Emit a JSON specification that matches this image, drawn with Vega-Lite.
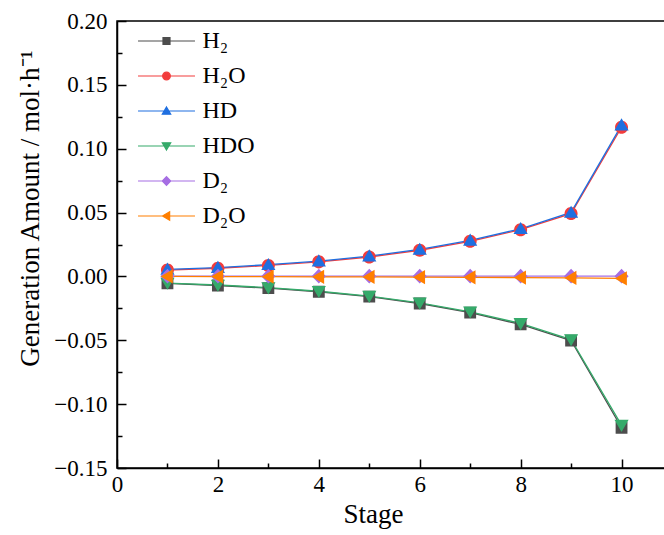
{
  "$schema": "https://vega.github.io/schema/vega-lite/v6.json",
  "width": 555,
  "height": 447,
  "autosize": {"type": "none"},
  "padding": {"left": 117, "top": 21, "right": 0, "bottom": 67},
  "background": "white",
  "config": {
    "view": {"stroke": "black", "strokeWidth": 1.5},
    "font": "Liberation Serif, Times New Roman, serif",
    "axis": {
      "grid": false,
      "domainColor": "black",
      "domainWidth": 1.5,
      "tickColor": "black",
      "tickWidth": 1.5,
      "labelColor": "black",
      "labelFontSize": 23,
      "labelFont": "Liberation Serif, Times New Roman, serif",
      "titleFont": "Liberation Serif, Times New Roman, serif",
      "titleFontSize": 27,
      "titleFontWeight": "normal",
      "titleColor": "black"
    }
  },
  "data": {
    "values": [
      {"species": "H₂", "stage": 1, "amount": -0.0055},
      {"species": "H₂", "stage": 2, "amount": -0.0071},
      {"species": "H₂", "stage": 3, "amount": -0.0092},
      {"species": "H₂", "stage": 4, "amount": -0.0120},
      {"species": "H₂", "stage": 5, "amount": -0.0158},
      {"species": "H₂", "stage": 6, "amount": -0.0212},
      {"species": "H₂", "stage": 7, "amount": -0.0284},
      {"species": "H₂", "stage": 8, "amount": -0.0376},
      {"species": "H₂", "stage": 9, "amount": -0.0502},
      {"species": "H₂", "stage": 10, "amount": -0.1185},
      {"species": "H₂O", "stage": 1, "amount": 0.0050},
      {"species": "H₂O", "stage": 2, "amount": 0.0064},
      {"species": "H₂O", "stage": 3, "amount": 0.0086},
      {"species": "H₂O", "stage": 4, "amount": 0.0114},
      {"species": "H₂O", "stage": 5, "amount": 0.0152},
      {"species": "H₂O", "stage": 6, "amount": 0.0205},
      {"species": "H₂O", "stage": 7, "amount": 0.0275},
      {"species": "H₂O", "stage": 8, "amount": 0.0366},
      {"species": "H₂O", "stage": 9, "amount": 0.0492},
      {"species": "H₂O", "stage": 10, "amount": 0.1168},
      {"species": "HD", "stage": 1, "amount": 0.0055},
      {"species": "HD", "stage": 2, "amount": 0.0069},
      {"species": "HD", "stage": 3, "amount": 0.0092},
      {"species": "HD", "stage": 4, "amount": 0.0120},
      {"species": "HD", "stage": 5, "amount": 0.0159},
      {"species": "HD", "stage": 6, "amount": 0.0211},
      {"species": "HD", "stage": 7, "amount": 0.0282},
      {"species": "HD", "stage": 8, "amount": 0.0373},
      {"species": "HD", "stage": 9, "amount": 0.0501},
      {"species": "HD", "stage": 10, "amount": 0.1185},
      {"species": "HDO", "stage": 1, "amount": -0.0052},
      {"species": "HDO", "stage": 2, "amount": -0.0067},
      {"species": "HDO", "stage": 3, "amount": -0.0088},
      {"species": "HDO", "stage": 4, "amount": -0.0116},
      {"species": "HDO", "stage": 5, "amount": -0.0154},
      {"species": "HDO", "stage": 6, "amount": -0.0207},
      {"species": "HDO", "stage": 7, "amount": -0.0277},
      {"species": "HDO", "stage": 8, "amount": -0.0368},
      {"species": "HDO", "stage": 9, "amount": -0.0494},
      {"species": "HDO", "stage": 10, "amount": -0.1164},
      {"species": "D₂", "stage": 1, "amount": 0.0002},
      {"species": "D₂", "stage": 2, "amount": 0.0002},
      {"species": "D₂", "stage": 3, "amount": 0.0002},
      {"species": "D₂", "stage": 4, "amount": 0.0002},
      {"species": "D₂", "stage": 5, "amount": 0.0002},
      {"species": "D₂", "stage": 6, "amount": 0.0002},
      {"species": "D₂", "stage": 7, "amount": 0.0002},
      {"species": "D₂", "stage": 8, "amount": 0.0002},
      {"species": "D₂", "stage": 9, "amount": 0.0002},
      {"species": "D₂", "stage": 10, "amount": 0.0002},
      {"species": "D₂O", "stage": 1, "amount": 0.0000},
      {"species": "D₂O", "stage": 2, "amount": -0.0001},
      {"species": "D₂O", "stage": 3, "amount": -0.0002},
      {"species": "D₂O", "stage": 4, "amount": -0.0003},
      {"species": "D₂O", "stage": 5, "amount": -0.0004},
      {"species": "D₂O", "stage": 6, "amount": -0.0006},
      {"species": "D₂O", "stage": 7, "amount": -0.0007},
      {"species": "D₂O", "stage": 8, "amount": -0.0009},
      {"species": "D₂O", "stage": 9, "amount": -0.0012},
      {"species": "D₂O", "stage": 10, "amount": -0.0016}
    ]
  },
  "encoding": {
    "x": {
      "field": "stage",
      "type": "quantitative",
      "scale": {"domain": [0, 11], "nice": false, "zero": false},
      "axis": {
        "values": [0, 1, 2, 3, 4, 5, 6, 7, 8, 9, 10],
        "labelExpr": "datum.value % 2 === 0 ? format(datum.value, 'd') : ''",
        "tickSize": {"condition": {"test": "datum.value % 2 === 0", "value": -9}, "value": -5},
        "labelPadding": 14,
        "labelFlush": false,
        "title": "Stage",
        "titleX": 256,
        "titleY": 54,
        "titleBaseline": "alphabetic",
        "titleAnchor": null,
        "titleAlign": "center"
      }
    },
    "y": {
      "field": "amount",
      "type": "quantitative",
      "scale": {"domain": [-0.15, 0.2], "nice": false, "zero": false},
      "axis": {
        "values": [-0.15, -0.125, -0.1, -0.075, -0.05, -0.025, 0, 0.025, 0.05, 0.075, 0.1, 0.125, 0.15, 0.175, 0.2],
        "labelExpr": "abs(datum.value * 20 - round(datum.value * 20)) < 0.001 ? format(datum.value, '.2f') : ''",
        "tickSize": {"condition": {"test": "abs(datum.value * 20 - round(datum.value * 20)) < 0.001", "value": -9}, "value": -5},
        "labelPadding": 19,
        "labelFlush": false,
        "title": "Generation Amount / mol·h⁻¹",
        "titleX": -79,
        "titleY": 187,
        "titleBaseline": "alphabetic",
        "titleAlign": "center",
        "titleAnchor": null
      }
    },
    "color": {
      "field": "species",
      "type": "nominal",
      "scale": {
        "domain": ["H₂", "H₂O", "HD", "HDO", "D₂", "D₂O"],
        "range": ["#4d4d4d", "#f23c3c", "#1f6fe0", "#35aa6a", "#a66ee3", "#ff7f00"]
      },
      "legend": {
        "orient": "none",
        "legendX": 21,
        "legendY": 8,
        "title": null,
        "padding": 0,
        "symbolSize": 49,
        "symbolStrokeWidth": 1.2,
        "symbolOffset": 16.5,
        "rowPadding": 11,
        "labelOffset": 24,
        "labelFontSize": 24,
        "labelFont": "Liberation Serif, Times New Roman, serif",
        "labelColor": "black",
        "labelLimit": 200,
        "encode": {
          "symbols": {
            "update": {
              "fill": {"scale": "color", "field": "value"},
              "stroke": {"scale": "color", "field": "value"},
              "strokeWidth": {"value": 1.2},
              "size": {"value": 49},
              "opacity": {"value": 1}
            }
          }
        }
      }
    }
  },
  "layer": [
    {
      "mark": {"type": "line", "strokeWidth": 1.3},
      "encoding": {}
    },
    {
      "mark": {"type": "point", "filled": true, "size": 140, "opacity": 1, "strokeWidth": 0},
      "encoding": {
        "shape": {
          "field": "species",
          "type": "nominal",
          "scale": {
            "domain": ["H₂", "H₂O", "HD", "HDO", "D₂", "D₂O"],
            "range": [
              "M-8.14,0H8.14M-1,-1H1V1H-1Z",
              "M-8.14,0H8.14M-1.1,0A1.1,1.1,0,1,0,1.1,0A1.1,1.1,0,1,0,-1.1,0Z",
              "M-8.14,0H8.14M0,-1.15L1.2,0.9L-1.2,0.9Z",
              "M-8.14,0H8.14M0,1.15L1.2,-0.9L-1.2,-0.9Z",
              "M-8.14,0H8.14M0,-1.25L1.2,0L0,1.25L-1.2,0Z",
              "M-8.14,0H8.14M-1.15,0L0.9,-1.2L0.9,1.2Z"
            ]
          }
        }
      }
    }
  ]
}
